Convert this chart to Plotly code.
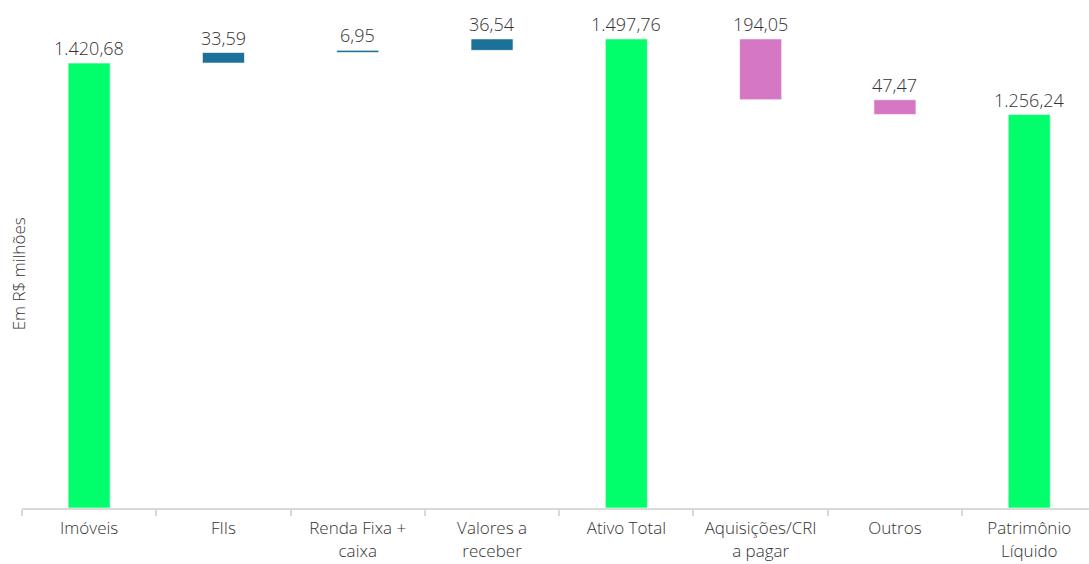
import plotly.graph_objects as go

categories = ["Imóveis", "FIIs", "Renda Fixa +<br>caixa", "Valores a<br>receber",
              "Ativo Total", "Aquisições/CRI<br>a pagar", "Outros", "Patrimônio<br>Líquido"]
values = [1420.68, 33.59, 6.95, 36.54, 1497.76, -194.05, -47.47, 1256.24]
kinds = ["total", "up", "up", "up", "total", "down", "down", "total"]

colors = {"total": "#00FF6A", "up": "#1D7198", "down": "#D677C4"}
FONT = "Open Sans"
W = 300


def fmt(v):
    s = f"{abs(v):,.2f}"
    return s.replace(",", "X").replace(".", ",").replace("X", ".")


bases, heights, tops, cols = [], [], [], []
running = 0.0
for v, k in zip(values, kinds):
    if k == "total":
        base, h = 0.0, v
        running = v
    else:
        start = running
        running = running + v
        base, h = min(start, running), abs(v)
    bases.append(base)
    heights.append(h)
    tops.append(base + h)
    cols.append(colors[k])

fig = go.Figure()
fig.add_trace(go.Bar(
    x=categories, y=heights, base=bases,
    marker=dict(color=cols, line=dict(color="rgba(255,255,255,0.6)", width=1)),
    width=0.313, hoverinfo="skip", showlegend=False,
))

for c, t, v in zip(categories, tops, values):
    fig.add_annotation(
        x=c, y=t, xref="x", yref="y", text=fmt(v), showarrow=False,
        yanchor="bottom", yshift=1,
        font=dict(size=18, color="#333333", family=FONT, weight=W),
    )

fig.add_annotation(
    text="Em R$ milhões", textangle=-90, xref="paper", yref="paper",
    x=-0.0037, y=0.46, xanchor="center", yanchor="middle", showarrow=False,
    font=dict(size=17, color="#333333", family=FONT, weight=W),
)

fig.update_layout(
    width=1089, height=564,
    margin=dict(l=22, r=0, t=0, b=56),
    plot_bgcolor="white", paper_bgcolor="white",
    font=dict(family=FONT, color="#333333", size=17),
    xaxis=dict(
        type="category", range=[-0.5, 7.445], tickson="boundaries",
        ticks="outside", ticklen=6, tickcolor="#D9D9D9", tickwidth=1.5,
        showline=True, linecolor="#D9D9D9", linewidth=2,
        showgrid=False, tickfont=dict(size=17, color="#333333", family=FONT, weight=W),
        ticklabelstandoff=4,
    ),
    yaxis=dict(visible=False, range=[0, 1622], showgrid=False),
)

fig.write_html("out.html")
